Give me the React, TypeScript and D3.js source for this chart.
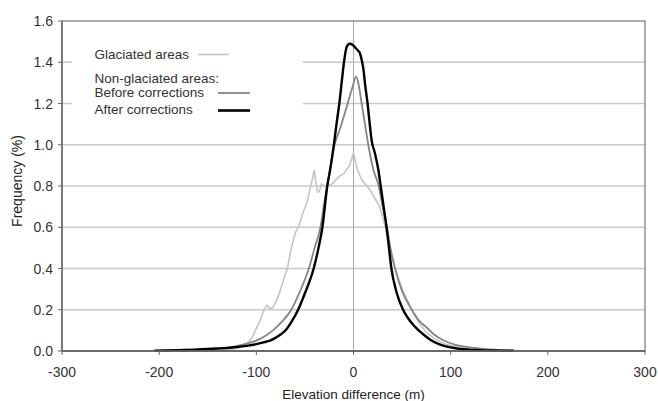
import React from 'react';
import * as d3 from 'd3';

// elevation difference (m) vs frequency (%)
const glaciated: [number, number][] = [
  [-150, 0.001], [-130, 0.004], [-122, 0.01], [-115, 0.02], [-111, 0.03], [-105, 0.06], [-101, 0.1],
  [-96, 0.15], [-92, 0.2], [-89, 0.222], [-86, 0.205], [-83, 0.212], [-79, 0.245], [-75, 0.3],
  [-71, 0.36], [-68, 0.4], [-64, 0.5], [-60, 0.57], [-56, 0.61], [-52, 0.67], [-48, 0.72],
  [-45, 0.78], [-42, 0.84], [-40.5, 0.876], [-39, 0.83], [-37, 0.77], [-35, 0.775], [-33, 0.81],
  [-30, 0.8], [-26, 0.8], [-22, 0.81], [-18, 0.83], [-14, 0.85], [-10, 0.86], [-7, 0.88],
  [-4, 0.9], [-1, 0.945], [0, 0.96], [2, 0.92], [4, 0.88], [7, 0.845], [10, 0.82], [13, 0.805],
  [17, 0.78], [22, 0.74], [27, 0.7], [30, 0.65], [34, 0.58], [38, 0.49], [43, 0.4], [50, 0.3],
  [60, 0.2], [67, 0.14], [75, 0.09], [85, 0.055], [95, 0.032], [110, 0.015], [130, 0.005], [150, 0.001]
];

const beforeCorrections: [number, number][] = [
  [-200, 0.001], [-175, 0.004], [-160, 0.006], [-145, 0.01], [-124, 0.02], [-112, 0.033], [-100, 0.05],
  [-90, 0.075], [-83, 0.1], [-74, 0.14], [-64, 0.2], [-55, 0.29], [-46, 0.4], [-40, 0.5],
  [-34, 0.6], [-30, 0.72], [-26, 0.83], [-20, 0.99], [-13, 1.09], [-6, 1.2], [-1, 1.28],
  [2.5, 1.33], [5, 1.298], [8.4, 1.2], [11.8, 1.1], [15.2, 1.0], [20.4, 0.88], [26, 0.8],
  [30, 0.7], [34.5, 0.6], [38, 0.5], [42.7, 0.4], [50, 0.29], [60, 0.2], [67, 0.15], [75, 0.115],
  [83, 0.08], [92, 0.053], [105, 0.03], [120, 0.018], [140, 0.008], [165, 0.002]
];

const afterCorrections: [number, number][] = [
  [-205, 0.002], [-180, 0.004], [-160, 0.007], [-140, 0.012], [-125, 0.017], [-110, 0.025],
  [-100, 0.033], [-90, 0.045], [-86, 0.05], [-80, 0.065], [-75, 0.08], [-70, 0.1], [-64, 0.14],
  [-57, 0.2], [-50, 0.28], [-41, 0.4], [-36, 0.5], [-32, 0.6], [-27, 0.8], [-24, 0.88],
  [-20.5, 0.99], [-17.5, 1.1], [-14.6, 1.2], [-12, 1.31], [-9.8, 1.4], [-7, 1.475], [-4, 1.49],
  [-1, 1.485], [2, 1.47], [4.5, 1.457], [6.7, 1.443], [8.5, 1.41], [10.1, 1.37], [12, 1.29],
  [14.5, 1.2], [16.5, 1.11], [18.7, 1.02], [22, 0.96], [25.5, 0.88], [28, 0.8], [31, 0.7],
  [34, 0.6], [36.5, 0.5], [39, 0.4], [44, 0.29], [51, 0.2], [56, 0.16], [61, 0.13], [66, 0.105],
  [72, 0.08], [79, 0.055], [88, 0.033], [96, 0.021], [110, 0.01], [130, 0.004], [150, 0.002], [165, 0.001]
];

const xTicks = [-300, -200, -100, 0, 100, 200, 300];
const yTicks = [0, 0.2, 0.4, 0.6, 0.8, 1.0, 1.2, 1.4, 1.6];

const legendRows = [
  { label: 'Glaciated areas', color: '#c4c4c4', width: 1.6, line: [198, 229] },
  { label: 'Non-glaciated areas:', color: null, width: 0, line: null },
  { label: 'Before corrections', color: '#858585', width: 1.8, line: [218, 250] },
  { label: 'After corrections', color: '#000000', width: 2.6, line: [218, 250] }
];

const W = 658;
const H = 401;
const margin = { left: 62, right: 13, top: 21, bottom: 50 };
const font = '"Liberation Sans", Arial, sans-serif';

export default function App() {
  const x = d3.scaleLinear().domain([-300, 300]).range([margin.left, W - margin.right]);
  const y = d3.scaleLinear().domain([0, 1.6]).range([H - margin.bottom, margin.top]);

  const line = d3.line<[number, number]>()
    .x(d => x(d[0]))
    .y(d => y(d[1]));
  const smooth = d3.line<[number, number]>()
    .x(d => x(d[0]))
    .y(d => y(d[1]))
    .curve(d3.curveMonotoneX);

  const x0 = margin.left, x1 = W - margin.right;
  const y0 = H - margin.bottom, y1 = margin.top;
  const legendY = [59, 82.5, 96.5, 114];
  const lineY = [54.5, 0, 93, 110.5];

  return (
    <svg width={W} height={H} style={{ position: 'absolute', left: 0, top: 0, background: '#fff' }}
      fontFamily={font}>
      {/* gridlines */}
      {yTicks.slice(1, -1).map(t => (
        <line key={t} x1={x0} x2={x1} y1={y(t)} y2={y(t)} stroke="#c8c8c8" strokeWidth={1.4} />
      ))}
      <line x1={x(0)} x2={x(0)} y1={y1} y2={y0} stroke="#a8a8a8" strokeWidth={1} />
      {/* legend background */}
      <rect x={72} y={38} width={231} height={84} fill="#fff" />

      <path d={line(glaciated) || ''} fill="none" stroke="#c4c4c4" strokeWidth={1.6} strokeLinejoin="round" />
      <path d={smooth(beforeCorrections) || ''} fill="none" stroke="#858585" strokeWidth={1.8} strokeLinejoin="round" />
      <path d={smooth(afterCorrections) || ''} fill="none" stroke="#000" strokeWidth={2.4} strokeLinejoin="round" />

      {/* frame */}
      <rect x={x0} y={y1} width={x1 - x0} height={y0 - y1} fill="none" stroke="#8a8a8a" strokeWidth={1.4} />
      <line x1={x0} x2={x1} y1={y0} y2={y0} stroke="#555" strokeWidth={1.6} />
      <line x1={x0} x2={x0} y1={y1} y2={y0} stroke="#666" strokeWidth={1.4} />

      {yTicks.map(t => (
        <g key={t}>
          <line x1={x0 - 4} x2={x0} y1={y(t)} y2={y(t)} stroke="#666" strokeWidth={1} />
          <text x={x0 - 9} y={y(t)} dy="0.36em" textAnchor="end" fontSize={14} fill="#333">
            {d3.format('.1f')(t)}
          </text>
        </g>
      ))}
      {xTicks.map(t => (
        <g key={t}>
          <line x1={x(t)} x2={x(t)} y1={y0} y2={y0 + 4} stroke="#666" strokeWidth={1} />
          <text x={x(t)} y={y0 + 26} textAnchor="middle" fontSize={14} fill="#333">{t}</text>
        </g>
      ))}

      <text x={x(0)} y={399} textAnchor="middle" fontSize={13.5} fill="#222">Elevation difference (m)</text>
      <text transform={`translate(22,${(y0 + y1) / 2 - 5}) rotate(-90)`} textAnchor="middle" fontSize={14} fill="#222">
        Frequency (%)
      </text>

      {legendRows.map((r, i) => (
        <g key={r.label}>
          <text x={94.5} y={legendY[i]} fontSize={13.5} fill="#333">{r.label}</text>
          {r.line && (
            <line x1={r.line[0]} x2={r.line[1]} y1={lineY[i]} y2={lineY[i]} stroke={r.color || '#000'} strokeWidth={r.width} />
          )}
        </g>
      ))}
    </svg>
  );
}
